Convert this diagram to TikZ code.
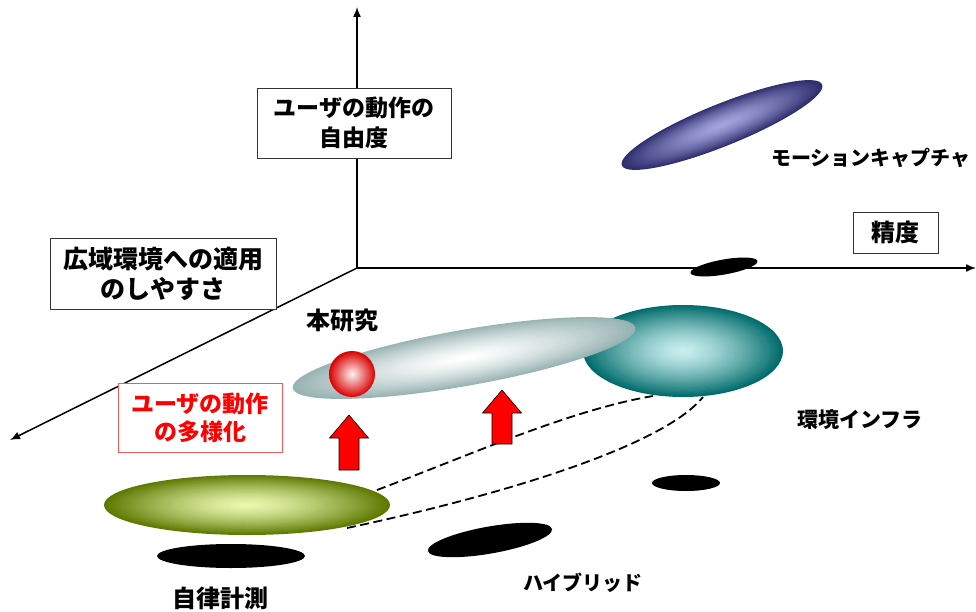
\documentclass[tikz,border=0pt]{standalone}
\usepackage{fontspec}
\setmainfont{Noto Sans CJK JP}
\usetikzlibrary{arrows.meta}
\definecolor{navyO}{HTML}{2E2E6E}
\definecolor{navyI}{HTML}{A4A4DE}
\definecolor{paleO}{HTML}{98B3B3}
\definecolor{paleI}{HTML}{FFFFFF}
\definecolor{tealO}{HTML}{006B6B}
\definecolor{tealI}{HTML}{C8EEEE}
\definecolor{oliveO}{HTML}{5E7800}
\definecolor{oliveI}{HTML}{E8F8B0}
\definecolor{boxred}{HTML}{F05A5A}
\newcommand{\gradell}[7]{%
  \begin{scope}[shift={(#1,#2)}, rotate=#5]
    \foreach \gk in {0,...,40}{%
      \pgfmathsetmacro{\gs}{1-\gk/40}%
      \pgfmathtruncatemacro{\gp}{100*(\gs)^1.4}%
      \fill[#6!\gp!#7] (0,0) ellipse ({#3*\gs} and {#4*\gs});
    }
  \end{scope}}
\tikzset{
  lbl/.style={font=\bfseries\fontsize{24}{30}\selectfont, inner sep=0pt, align=center},
  box/.style={draw=black!80, line width=0.8pt, fill=white, inner sep=0pt, align=center},
  axis/.style={line width=1.5pt, -{Latex[length=10pt,width=8pt]}},
  dashcurve/.style={line width=1.8pt, dash pattern=on 9pt off 4.5pt},
  uparrow/.style={fill=red, draw=black, line width=0.6pt},
  shadow/.style={fill=black}
}
\begin{document}
\begin{tikzpicture}[x=1pt, y=-1pt]
\useasboundingbox (0,0) rectangle (976,612);
% axes
\coordinate (O) at (357,268);
\coordinate (Ytop) at (357,7);
\coordinate (Xend) at (976,268);
\coordinate (Zend) at (10,440);
\draw[axis] (O) -- (Ytop);
\draw[axis] (O) -- (Xend);
\draw[axis] (O) -- (Zend);
% axis label boxes
\node[box, minimum width=194pt, minimum height=70pt, font=\bfseries\fontsize{23}{30}\selectfont] (b1) at (354,123) {ユーザの動作の\\自由度};
\node[box, minimum width=226pt, minimum height=71pt, font=\bfseries\fontsize{25}{30}\selectfont] (b2) at (163,273.5) {広域環境への適用\\のしやすさ};
\node[box, minimum width=85pt, minimum height=41pt, font=\bfseries\fontsize{24}{30}\selectfont] (b3) at (895.5,232.5) {精度};
% shadows
\fill[shadow, rotate around={10:(724,267)}] (724,267) ellipse (34 and 7.5);
\fill[shadow] (231,556) ellipse (74 and 12);
\fill[shadow, rotate around={10:(490,540)}] (490,540) ellipse (63 and 13.5);
\fill[shadow] (686,483) ellipse (34 and 8);
% dashed hybrid region
\coordinate (gU) at (377,490);
\coordinate (tU) at (653,396);
\coordinate (gL) at (347,528);
\coordinate (tL) at (703,397);
\draw[dashcurve] (gU) .. controls (470,455) and (570,410) .. (tU);
\draw[dashcurve] (gL) .. controls (480,500) and (660,450) .. (tL);
% ellipses
\gradell{722}{125}{108}{21}{22}{navyO}{navyI}
\gradell{683}{351}{100}{46}{0}{tealO}{tealI}
\gradell{464}{358}{174}{28}{10}{paleO}{paleI}
\gradell{247}{505}{143}{30}{0}{oliveO}{oliveI}
% red ball
\shade[inner color=red!5, outer color=red!85!black] (352,374) circle (23);
% red arrows
\draw[uparrow] (349,415) -- (368.5,438) -- (359,438) -- (359,470) -- (339,470) -- (339,438) -- (329.5,438) -- cycle;
\draw[uparrow] (502,390) -- (521.5,413) -- (512,413) -- (512,444) -- (492,444) -- (492,413) -- (482.5,413) -- cycle;
% labels
\node[lbl, font=\bfseries\fontsize{20}{24}\selectfont] (mocap) at (871,158) {モーションキャプチャ};
\node[lbl] (honken) at (342,320) {本研究};
\node[lbl, font=\bfseries\fontsize{21}{24}\selectfont] (infra) at (860,420) {環境インフラ};
\node[lbl] (jiritsu) at (220,598) {自律計測};
\node[lbl, font=\bfseries\fontsize{20}{24}\selectfont] (hybrid) at (583,583) {ハイブリッド};
\node[box, draw=boxred, text=red, minimum width=164pt, minimum height=69pt, font=\bfseries\fontsize{23}{28}\selectfont] (tayou) at (200,417.5) {ユーザの動作\\の多様化};
\end{tikzpicture}
\end{document}
